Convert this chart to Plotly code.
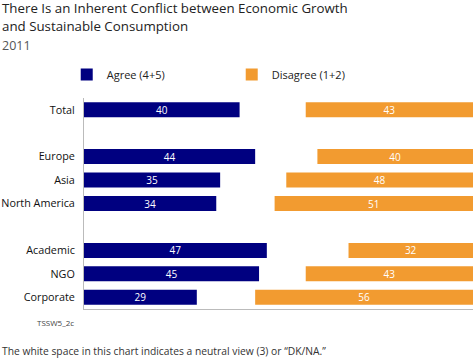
import plotly.graph_objects as go

categories = ["Total", "Europe", "Asia", "North America", "Academic", "NGO", "Corporate"]
agree = [40, 44, 35, 34, 47, 45, 29]
disagree = [43, 40, 48, 51, 32, 43, 56]
group_starts = ["Europe", "Academic"]  # a blank row is left before each of these

title_lines = ["There Is an Inherent Conflict between Economic Growth", "and Sustainable Consumption"]
subtitle_text = "2011"
source_text = "TSSW5_2c"
note_text = "The white space in this chart indicates a neutral view (3) or \u201cDK/NA.\u201d"

NAVY = "#000080"
ORANGE = "#F29B30"
FONT = "Open Sans"

# row positions, skipping one slot before each new group
pos = []
p = 0
for c in categories:
    if c in group_starts:
        p += 1
    pos.append(p)
    p += 1
n_slots = p

fig = go.Figure()
fig.add_trace(go.Bar(
    y=pos, x=agree, base=[0] * len(agree), orientation="h", name="Agree (4+5)",
    marker=dict(color=NAVY, line=dict(width=0)),
    text=[str(v) for v in agree], textposition="inside", insidetextanchor="middle",
    textangle=0, textfont=dict(color="white", size=10, family=FONT),
    width=0.64, hoverinfo="skip",
))
fig.add_trace(go.Bar(
    y=pos, x=disagree, base=[100 - v for v in disagree], orientation="h", name="Disagree (1+2)",
    marker=dict(color=ORANGE, line=dict(width=0)),
    text=[str(v) for v in disagree], textposition="inside", insidetextanchor="middle",
    textangle=0, textfont=dict(color="white", size=10, family=FONT),
    width=0.64, hoverinfo="skip",
))

def py(pixel_y):
    # pixel row of the page -> paper y (plot area spans pixel 98..309)
    return (309 - pixel_y) / 211

def px(pixel_x):
    return (pixel_x - 84) / 389

fig.update_layout(
    width=474, height=360,
    margin=dict(l=84, r=1, t=98, b=51, pad=0),
    paper_bgcolor="white", plot_bgcolor="white",
    font=dict(family=FONT, color="#222222"),
    barmode="overlay",
    uniformtext=dict(mode="show", minsize=10),
    showlegend=True,
    legend=dict(orientation="h", x=-0.0444, y=1.111, xanchor="left", yanchor="middle",
                font=dict(size=11, color="#222222"), entrywidth=120, itemwidth=30,
                bgcolor="rgba(0,0,0,0)", traceorder="normal"),
    xaxis=dict(range=[0, 100], showgrid=False, zeroline=False, showticklabels=False,
               showline=True, linecolor="#BBBBBB", linewidth=1, fixedrange=True),
    yaxis=dict(range=[n_slots - 0.5, -0.5], tickvals=pos, ticktext=categories,
               showgrid=False, zeroline=False, showline=True, linecolor="#BBBBBB",
               linewidth=1, ticks="", ticklabelstandoff=6, fixedrange=True,
               tickfont=dict(size=10.8, color="#111111", family=FONT)),
    annotations=[
        dict(text=title_lines[0], xref="paper", yref="paper", x=px(0), y=py(8),
             xanchor="left", yanchor="middle", showarrow=False,
             font=dict(size=13.3, color="#222222", family=FONT)),
        dict(text=title_lines[1], xref="paper", yref="paper", x=px(0), y=py(26),
             xanchor="left", yanchor="middle", showarrow=False,
             font=dict(size=13.3, color="#222222", family=FONT)),
        dict(text=subtitle_text, xref="paper", yref="paper", x=px(0), y=py(45.5),
             xanchor="left", yanchor="middle", showarrow=False,
             font=dict(size=12.5, color="#555555", family=FONT)),
        dict(text=source_text, xref="paper", yref="paper", x=px(76), y=py(322),
             xanchor="right", yanchor="middle", showarrow=False,
             font=dict(size=8, color="#444444", family=FONT)),
        dict(text=note_text, xref="paper", yref="paper", x=px(0), y=py(351),
             xanchor="left", yanchor="middle", showarrow=False,
             font=dict(size=10.3, color="#333333", family=FONT)),
    ],
)

fig.write_html("out.html", config={"displayModeBar": False},
               post_script="document.body.style.margin='0';document.body.style.overflow='hidden';")
